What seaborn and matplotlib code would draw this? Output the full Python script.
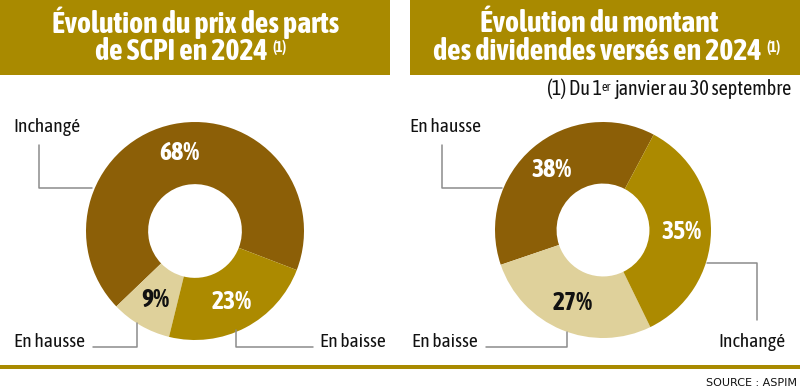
import numpy as np
import matplotlib.pyplot as plt
from matplotlib.patches import Rectangle
import seaborn as sns

# Data
left_labels = ["Inchangé", "En hausse", "En baisse"]
left_values = [68, 9, 23]
right_labels = ["En hausse", "En baisse", "Inchangé"]
right_values = [38, 27, 35]

DARK = "#8C5F07"
GOLD = "#AC8A00"
LIGHT = "#DFD19B"
BAND = "#A98A00"
GREY = "#8C8C8C"
left_colors = [DARK, LIGHT, GOLD]
right_colors = [DARK, LIGHT, GOLD]

sns.set_theme(style="white")
plt.rcParams["font.family"] = ["Asap Condensed", "DejaVu Sans"]

W, H = 800, 391
fig = plt.figure(figsize=(W / 100, H / 100), dpi=100)
ax = fig.add_axes([0, 0, 1, 1])


def Y(y):
    # pixel rows measured from the top
    return H - y


def donut(values, colors, cx, cy, r, start):
    wedges, _, pcts = ax.pie(values, colors=colors, startangle=start, counterclock=True,
                             center=(cx, Y(cy)), radius=r,
                             wedgeprops=dict(width=r * 0.57, linewidth=0),
                             autopct=lambda p: "%d%%" % round(p), pctdistance=0.73,
                             textprops=dict(fontsize=18.5, fontweight="bold", color="white"))
    for c, t in zip(colors, pcts):
        if c == LIGHT:
            t.set_color("#111111")
    return wedges


donut(left_values, left_colors, 195, 231, 109, -21)
donut(right_values, right_colors, 603, 230, 108, 62)

# header bands
ax.add_patch(Rectangle((0, Y(75)), 390, 75, color=BAND, lw=0))
ax.add_patch(Rectangle((410, Y(75)), 390, 75, color=BAND, lw=0))
ax.add_patch(Rectangle((0, Y(369)), W, 4, color=BAND, lw=0))

title_kw = dict(color="white", fontsize=21.5, fontweight="bold", ha="center", va="center")
sup_kw = dict(color="white", fontsize=10.5, fontweight="bold", ha="left", va="top",
              textcoords="offset points")
ax.text(196, Y(23), "Évolution du prix des parts", **title_kw)
t = ax.text(181, Y(51), "de SCPI en 2024", **title_kw)
ax.annotate("(1)", xy=(1, 0.88), xycoords=t, xytext=(4, 0), **sup_kw)
ax.text(599, Y(23), "Évolution du montant", **title_kw)
t = ax.text(597, Y(51), "des dividendes versés en 2024", **title_kw)
ax.annotate("(1)", xy=(1, 0.88), xycoords=t, xytext=(4, 0), **sup_kw)

# footnote : (1) Du 1er janvier au 30 septembre
note_kw = dict(fontsize=14.5, color="#111111")
t3 = ax.text(792, Y(95), "janvier au 30 septembre", ha="right", va="baseline", **note_kw)
t2 = ax.annotate("er", xy=(0, 1), xycoords=t3, xytext=(-2.5, -1.5), textcoords="offset points",
                 ha="right", va="top", fontsize=9, color="#111111")
ax.annotate("(1) Du 1", xy=(0, 0), xycoords=(t2, t3), xytext=(0.3, 0), textcoords="offset points",
            ha="right", va="bottom", **note_kw)

ax.text(797, Y(383), "SOURCE : ASPIM", ha="right", va="center", fontsize=8,
        color="#111111", family=["DejaVu Sans"])

# leader lines and category labels
label_kw = dict(fontsize=14, color="#111111", va="center")
leaders = [
    ([39, 39, 92], [145, 188, 188]),
    ([93, 137, 137], [347, 347, 323]),
    ([236, 236, 313], [330, 347, 347]),
    ([442, 442, 502], [145, 188, 188]),
    ([707, 757, 757], [263, 263, 320]),
    ([486, 567, 567], [347, 347, 332]),
]
for xs, ys in leaders:
    ax.plot(xs, [Y(v) for v in ys], color=GREY, lw=1.1)

ax.text(13, Y(127), left_labels[0], ha="left", **label_kw)
ax.text(14, Y(342), left_labels[1], ha="left", **label_kw)
ax.text(320, Y(342), left_labels[2], ha="left", **label_kw)
ax.text(410, Y(127), right_labels[0], ha="left", **label_kw)
ax.text(412, Y(342), right_labels[1], ha="left", **label_kw)
ax.text(718, Y(342), right_labels[2], ha="left", **label_kw)

ax.set_xlim(0, W)
ax.set_ylim(0, H)
ax.set_aspect("auto")
ax.axis("off")

fig.savefig("out.png", dpi=100, facecolor="white")
